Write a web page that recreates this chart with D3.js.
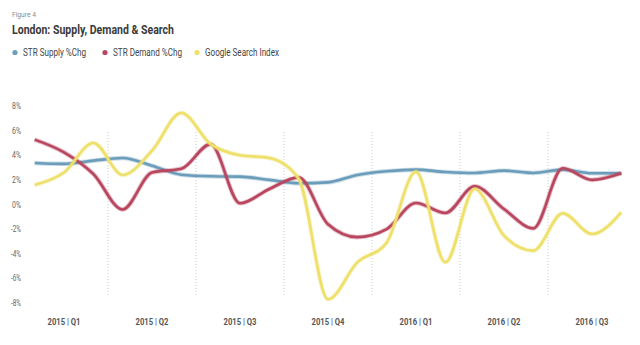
<!DOCTYPE html>
<html><head><meta charset="utf-8">
<script src="https://cdn.jsdelivr.net/npm/d3@7"></script>
<style>
html,body{margin:0;padding:0;background:#fff;}
svg{display:block;}
text{font-family:"Roboto","Liberation Sans",sans-serif;}
</style></head>
<body>
<svg id="chart" width="640" height="345"></svg>
<script>
const quarters = ["2015 | Q1","2015 | Q2","2015 | Q3","2015 | Q4","2016 | Q1","2016 | Q2","2016 | Q3"];
const months = d3.range(21); // Jan 2015 .. Sep 2016
const yTicks = [8,6,4,2,0,-2,-4,-6,-8];
const supply = [3.37,3.3,3.56,3.78,3.15,2.42,2.29,2.26,2.0,1.72,1.8,2.4,2.7,2.83,2.64,2.56,2.75,2.56,2.83,2.54,2.54];
const demand = [5.27,4.24,2.48,-0.4,2.6,2.9,4.9,0.1,1.26,2.2,-1.6,-2.65,-2.0,0.12,-0.69,1.48,-0.37,-1.94,2.94,2.0,2.54];
const search = [1.58,2.6,5.0,2.4,4.37,7.44,4.9,4.0,3.78,2.1,-7.7,-4.7,-3.1,2.67,-4.7,1.26,-2.53,-3.75,-0.72,-2.4,-0.63];
const seriesNames = ["STR Supply %Chg","STR Demand %Chg","Google Search Index"];
const colors = ["#6b9dba","#b8465f","#eee06a"];

const svg = d3.select("#chart");
const x = d3.scaleLinear().domain([-0.5,20.5]).range([20,636]);
const y = d3.scaleLinear().domain([-8,8]).range([303,106]);

// header
svg.append("text").attr("x",12).attr("y",17).attr("font-size",7.5).attr("fill","#8a8a8a")
  .attr("textLength",24).attr("lengthAdjust","spacingAndGlyphs").text("Figure 4");
svg.append("text").attr("x",12).attr("y",34).attr("font-size",13.5).attr("font-weight","bold").attr("fill","#3a3a3a")
  .attr("textLength",162).attr("lengthAdjust","spacingAndGlyphs").text("London: Supply, Demand & Search");

// legend
const legX = [15,105,197];
const legW = [63,69,74];
seriesNames.forEach((n,i)=>{
  svg.append("circle").attr("cx",legX[i]).attr("cy",52.5).attr("r",2.6).attr("fill",colors[i]);
  svg.append("text").attr("x",legX[i]+8).attr("y",56).attr("font-size",10).attr("fill","#444")
    .attr("textLength",legW[i]).attr("lengthAdjust","spacingAndGlyphs").text(n);
});

// y axis labels
svg.append("g").selectAll("text").data(yTicks).join("text")
  .attr("x",21).attr("y",d=>y(d)+3).attr("text-anchor","end").attr("font-size",8.5).attr("fill","#666")
  .attr("textLength",d=>d<0?10:9).attr("lengthAdjust","spacingAndGlyphs")
  .text(d=>d+"%");

// vertical dotted quarter lines
const qBounds = d3.range(1,7).map(q=>q*3-0.5);
svg.append("g").selectAll("line").data(qBounds).join("line")
  .attr("x1",d=>x(d)).attr("x2",d=>x(d)).attr("y1",132).attr("y2",297)
  .attr("stroke","#c8c8c8").attr("stroke-width",1).attr("stroke-dasharray","1,2");

// x labels
svg.append("g").selectAll("text").data(quarters).join("text")
  .attr("x",(d,i)=>x(i*3+1)).attr("y",325).attr("text-anchor","middle").attr("font-size",9)
  .attr("font-weight","bold").attr("fill","#555")
  .attr("textLength",33).attr("lengthAdjust","spacingAndGlyphs").text(d=>d);

// lines
const line = d3.line().x((d,i)=>x(months[i])).y(d=>y(d)).curve(d3.curveMonotoneX);
[supply,demand,search].forEach((s,i)=>{
  svg.append("path").datum(s).attr("d",line).attr("fill","none")
    .attr("stroke",colors[i]).attr("stroke-opacity",0.35).attr("stroke-width",4.5).attr("stroke-linejoin","round");
  svg.append("path").datum(s).attr("d",line).attr("fill","none")
    .attr("stroke",colors[i]).attr("stroke-width",2.6).attr("stroke-linejoin","round");
});
</script>
</body></html>
